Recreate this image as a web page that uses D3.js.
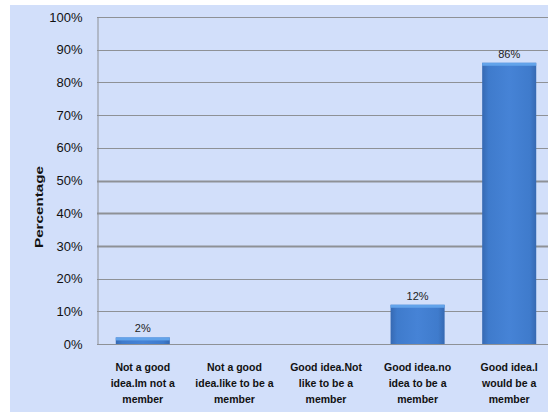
<!DOCTYPE html>
<html><head><meta charset="utf-8">
<script src="https://cdn.jsdelivr.net/npm/d3@7"></script>
<style>html,body{margin:0;padding:0;background:#fff;}svg{display:block;}</style>
</head><body>
<script>
const categories = [
  ["Not a good", "idea.Im not a", "member"],
  ["Not a good", "idea.like to be a", "member"],
  ["Good idea.Not", "like to be a", "member"],
  ["Good idea.no", "idea to be a", "member"],
  ["Good idea.I", "would be a", "member"]
];
const values = [2, 0, 0, 12, 86];
const yTicks = [0, 10, 20, 30, 40, 50, 60, 70, 80, 90, 100];
const yTitle = "Percentage";

const W = 549, H = 412;
const svg = d3.select("body").append("svg").attr("width", W).attr("height", H);

svg.append("rect").attr("x", 10).attr("y", 5).attr("width", 538).attr("height", 407).attr("fill", "#d2dffa");

const defs = svg.append("defs");
const g = defs.append("linearGradient").attr("id", "barg").attr("x1", "0").attr("x2", "1").attr("y1", "0").attr("y2", "0");
g.append("stop").attr("offset", "0").attr("stop-color", "#3669b2");
g.append("stop").attr("offset", "0.12").attr("stop-color", "#3f7bcc");
g.append("stop").attr("offset", "0.5").attr("stop-color", "#4683d6");
g.append("stop").attr("offset", "0.88").attr("stop-color", "#3f7bcc");
g.append("stop").attr("offset", "1").attr("stop-color", "#3669b2");
defs.append("clipPath").attr("id", "clip").append("rect").attr("x", 10).attr("y", 0).attr("width", 538).attr("height", 412);

const x = d3.scaleBand().domain(d3.range(categories.length)).range([97, 555]).paddingInner(0.41).paddingOuter(0.205);
const y = d3.scaleLinear().domain([0, 100]).range([344, 17]);

const plot = svg.append("g").attr("clip-path", "url(#clip)");

// gridlines
plot.selectAll("line.grid").data(yTicks).join("line")
  .attr("x1", 97).attr("x2", 555)
  .attr("y1", d => Math.round(y(d)) + 0.5).attr("y2", d => Math.round(y(d)) + 0.5)
  .attr("stroke", "#8e9196").attr("stroke-width", d => (d === 30 || d === 40 || d === 50) ? 2 : 1.2);

// y axis
const yAxis = d3.axisLeft(y).tickValues(yTicks).tickFormat(d => d + "%").tickSize(0).tickPadding(15);
const ya = svg.append("g").attr("transform", "translate(97.5,0)").call(yAxis);
ya.select(".domain").attr("stroke", "#8e9196").attr("stroke-width", 1);
ya.selectAll("text").attr("font-family", "Liberation Sans, Arial, sans-serif").attr("font-size", 13).attr("fill", "#111");

// bars
plot.selectAll("rect.bar").data(values).join("rect")
  .attr("x", (d, i) => x(i)).attr("width", x.bandwidth())
  .attr("y", d => y(d)).attr("height", d => y(0) - y(d))
  .attr("fill", "url(#barg)");
plot.selectAll("rect.top").data(values.filter(v => v > 0).map(v => ({v, i: values.indexOf(v)}))).join("rect")
  .attr("x", d => x(d.i)).attr("width", x.bandwidth())
  .attr("y", d => y(d.v)).attr("height", 3)
  .attr("fill", "#62a3ea");

// value labels
plot.selectAll("text.val").data(values.map((v, i) => ({v, i})).filter(d => d.v > 0)).join("text")
  .attr("x", d => x(d.i) + x.bandwidth() / 2)
  .attr("y", d => y(d.v) - 5)
  .attr("text-anchor", "middle")
  .attr("font-family", "Liberation Sans, Arial, sans-serif").attr("font-size", 11).attr("fill", "#222")
  .text(d => d.v + "%");

// x labels
const xl = svg.append("g");
categories.forEach((lines, i) => {
  const t = xl.append("text")
    .attr("text-anchor", "middle")
    .attr("font-family", "Liberation Sans, Arial, sans-serif").attr("font-size", 10.5).attr("font-weight", "bold").attr("fill", "#111");
  lines.forEach((ln, k) => {
    t.append("tspan").attr("x", x(i) + x.bandwidth() / 2).attr("y", 371 + k * 16).text(ln);
  });
});

// y title
svg.append("text")
  .attr("transform", "translate(43,207) rotate(-90)")
  .attr("text-anchor", "middle")
  .attr("font-family", "Liberation Sans, Arial, sans-serif").attr("font-size", 11).attr("font-weight", "bold").attr("fill", "#111")
  .attr("textLength", 82).attr("lengthAdjust", "spacingAndGlyphs")
  .text(yTitle);
</script>
</body></html>
